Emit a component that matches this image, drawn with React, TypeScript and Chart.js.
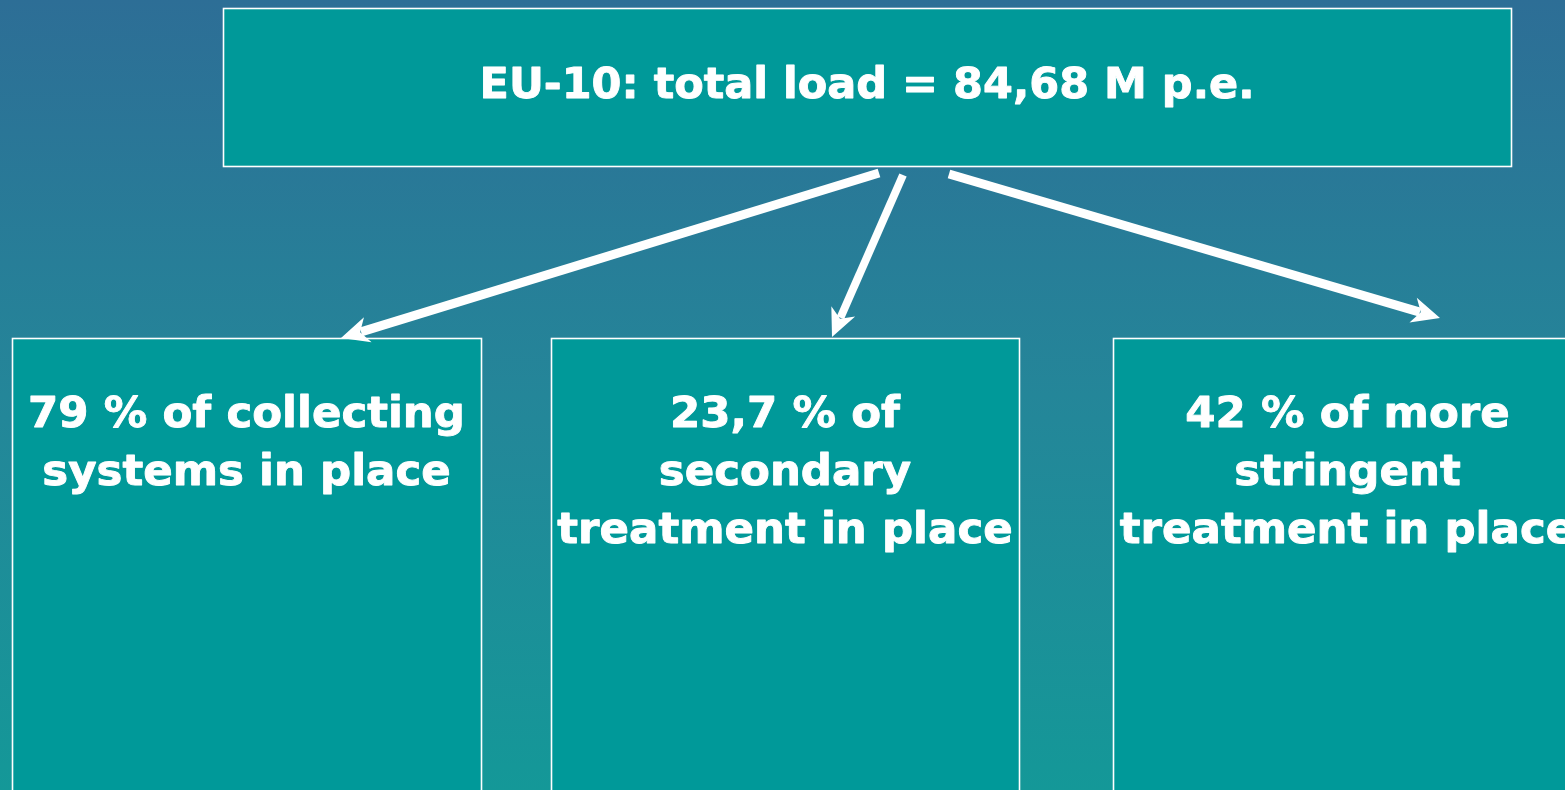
import React, { useEffect, useRef } from "react";
import { Chart, registerables } from "chart.js";

Chart.register(...registerables);

// ---- content ----
const titleText = "EU-10: total load = 84,68 M p.e.";
const totalLoadMpe = 84.68;
const shareValues = [79, 23.7, 42];
const shareLines = [
  ["79 % of collecting", "systems in place"],
  ["23,7 % of", "secondary", "treatment in place"],
  ["42 % of more", "stringent", "treatment in place"],
];

// ---- layout (page pixel units, used as scale values) ----
const W = 1565;
const H = 790;
const LAYOUT = {
  top: { x0: 223, x1: 1511, y0: 8, y1: 166, baseline: 98 },
  children: [
    { x0: 12, x1: 481, y0: 338, y1: 800 },
    { x0: 551, x1: 1019, y0: 338, y1: 800 },
    { x0: 1113, x1: 1582, y0: 338, y1: 800 },
  ],
  childFirstBaseline: 427,
  lineStep: 58,
  arrows: [
    { from: [879, 173], to: [341, 338], width: 9 },
    { from: [903, 175], to: [832, 337], width: 8 },
    { from: [949, 174], to: [1440, 318], width: 9 },
  ],
};
const ARROW_HEAD = { length: 28, halfWidth: 13, notch: 20 };
const FONT = "bold 43.5px 'DejaVu Sans', Verdana, sans-serif";
const TITLE_FONT = "bold 43px 'DejaVu Sans', Verdana, sans-serif";
const BOX_FILL = "#009999";

const diagramPlugin = {
  id: "diagram",
  beforeDraw(chart: any) {
    const { ctx } = chart;
    const g = ctx.createLinearGradient(0, 0, 0, chart.height);
    g.addColorStop(0, "rgb(45,110,150)");
    g.addColorStop(0.5, "rgb(36,134,153)");
    g.addColorStop(1, "rgb(20,152,152)");
    ctx.save();
    ctx.fillStyle = g;
    ctx.fillRect(0, 0, chart.width, chart.height);
    ctx.restore();
  },
  beforeDatasetsDraw(chart: any) {
    const { ctx, scales } = chart;
    const px = (v: number) => scales.x.getPixelForValue(v);
    const py = (v: number) => scales.y.getPixelForValue(v);
    const boxes = [LAYOUT.top, ...LAYOUT.children];
    ctx.save();
    boxes.forEach((b: any) => {
      const x0 = px(b.x0), x1 = px(b.x1), y0 = py(b.y0), y1 = py(b.y1);
      ctx.fillStyle = BOX_FILL;
      ctx.fillRect(x0, y0, x1 - x0, y1 - y0);
      ctx.strokeStyle = "#ffffff";
      ctx.lineWidth = 1.6;
      ctx.strokeRect(x0 + 0.5, y0 + 0.5, x1 - x0, y1 - y0);
    });
    ctx.fillStyle = "#ffffff";
    ctx.strokeStyle = "#ffffff";
    ctx.lineWidth = 0.9;
    ctx.lineJoin = "round";
    ctx.textAlign = "center";
    ctx.textBaseline = "alphabetic";
    const draw = (s: string, x: number, y: number) => {
      ctx.fillText(s, x, y);
      ctx.strokeText(s, x, y);
    };
    ctx.font = TITLE_FONT;
    const t = LAYOUT.top;
    draw(titleText, px((t.x0 + t.x1) / 2), py(t.baseline));
    ctx.font = FONT;
    LAYOUT.children.forEach((b, i) => {
      const cx = px((b.x0 + b.x1) / 2);
      shareLines[i].forEach((line, j) => {
        draw(line, cx, py(LAYOUT.childFirstBaseline + j * LAYOUT.lineStep));
      });
    });
    ctx.restore();
  },
  afterDatasetsDraw(chart: any) {
    const { ctx, scales } = chart;
    ctx.save();
    ctx.fillStyle = "#ffffff";
    LAYOUT.arrows.forEach((a) => {
      const fx = scales.x.getPixelForValue(a.from[0]);
      const fy = scales.y.getPixelForValue(a.from[1]);
      const tx = scales.x.getPixelForValue(a.to[0]);
      const ty = scales.y.getPixelForValue(a.to[1]);
      const ang = Math.atan2(ty - fy, tx - fx);
      const { length: L, halfWidth: Wd, notch } = ARROW_HEAD;
      ctx.save();
      ctx.translate(tx, ty);
      ctx.rotate(ang);
      ctx.beginPath();
      ctx.moveTo(0, 0);
      ctx.lineTo(-L, -Wd);
      ctx.lineTo(-notch, 0);
      ctx.lineTo(-L, Wd);
      ctx.closePath();
      ctx.fill();
      ctx.restore();
    });
    ctx.restore();
  },
};

export default function App() {
  const ref = useRef<HTMLCanvasElement | null>(null);
  useEffect(() => {
    document.body.style.margin = "0";
    document.body.style.background = "rgb(36,134,153)";
    const canvas = ref.current;
    if (!canvas) return;
    const datasets = LAYOUT.arrows.map((a, i) => {
      const dx = a.to[0] - a.from[0], dy = a.to[1] - a.from[1];
      const len = Math.hypot(dx, dy);
      const k = (len - ARROW_HEAD.notch - 1) / len;
      return {
        label: `${shareValues[i]} % of ${totalLoadMpe} M p.e.`,
        data: [
          { x: a.from[0], y: a.from[1] },
          { x: a.from[0] + dx * k, y: a.from[1] + dy * k },
        ],
        borderColor: "#ffffff",
        backgroundColor: "#ffffff",
        borderWidth: a.width,
        pointRadius: 0,
        borderCapStyle: "butt",
        tension: 0,
        fill: false,
        clip: false,
      };
    });
    const chart = new Chart(canvas, {
      type: "line",
      data: { datasets: datasets as any },
      options: {
        animation: false,
        responsive: false,
        maintainAspectRatio: false,
        layout: { padding: 0 },
        events: [],
        plugins: { legend: { display: false }, tooltip: { enabled: false } },
        scales: {
          x: { type: "linear", min: 0, max: W, display: false },
          y: { type: "linear", min: 0, max: H, reverse: true, display: false },
        },
      },
      plugins: [diagramPlugin as any],
    });
    return () => chart.destroy();
  }, []);
  return (
    <div style={{ width: W, height: H, overflow: "hidden" }}>
      <canvas ref={ref} width={W} height={H} style={{ display: "block", width: W, height: H }} />
    </div>
  );
}
